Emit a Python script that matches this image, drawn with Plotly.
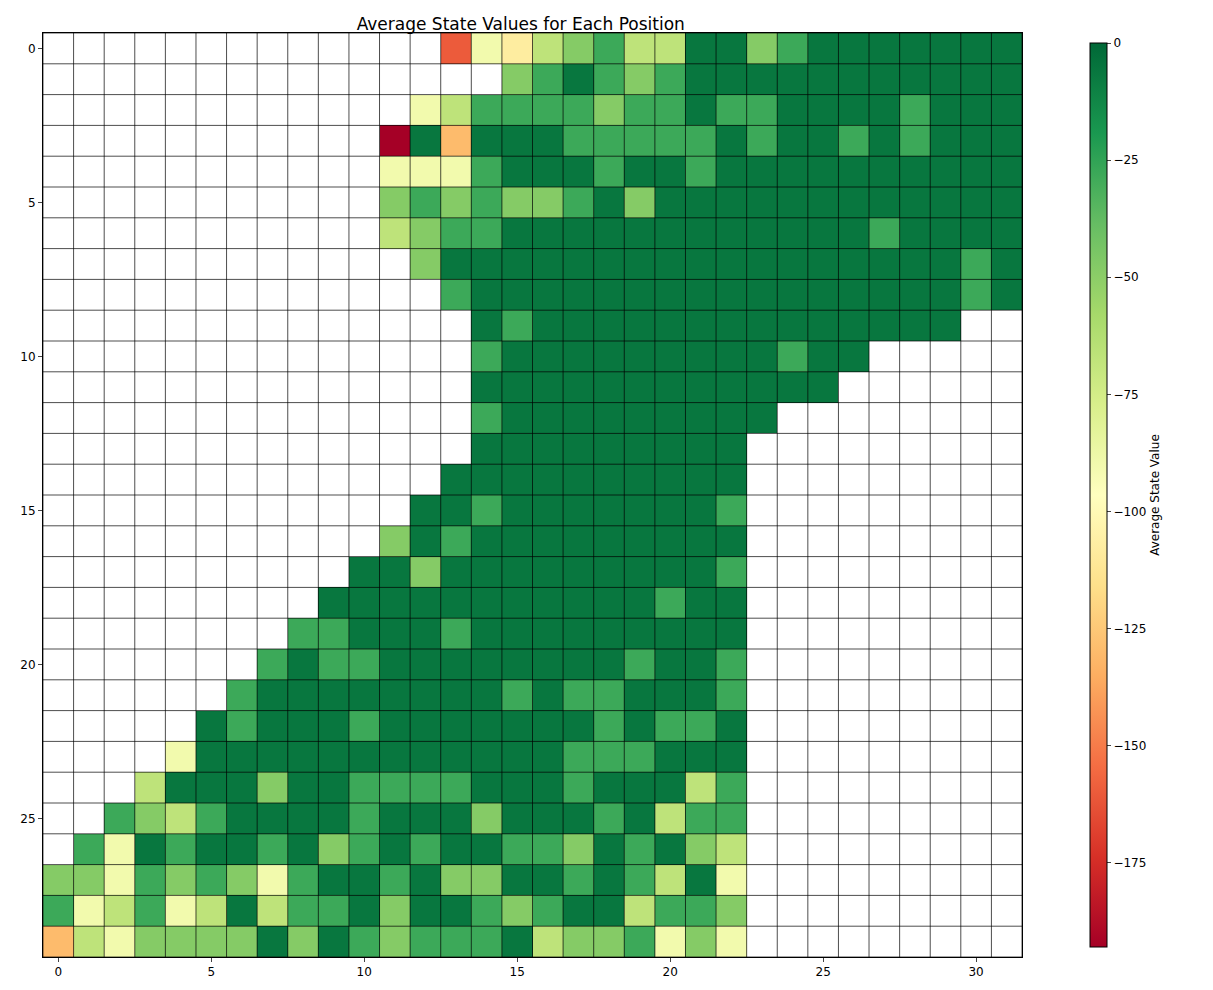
import plotly.graph_objects as go
import numpy as np

# cell codes, one string per row (row 0 at top)
# . = empty, D dark green, G mid green, L light green, Y yellow-green,
# P pale yellow, T light tan, O orange, R red-orange, X deep red
rows = [
    ".............RPTYLGYYDDLGDDDDDDD",
    "...............LGDGLGDDDDDDDDDDD",
    "............PYGGGGLGGDGGDDDDGDDD",
    "...........XDODDDGGGGGDGDDGDGDDD",
    "...........PPPGDDDGDDGDDDDDDDDDD",
    "...........LGLGLLGDLDDDDDDDDDDDD",
    "...........YLGGDDDDDDDDDDDDGDDDD",
    "............LDDDDDDDDDDDDDDDDDGD",
    ".............GDDDDDDDDDDDDDDDDGD",
    "..............DGDDDDDDDDDDDDDD..",
    "..............GDDDDDDDDDGDD.....",
    "..............DDDDDDDDDDDD......",
    "..............GDDDDDDDDD........",
    "..............DDDDDDDDD.........",
    ".............DDDDDDDDDD.........",
    "............DDGDDDDDDDG.........",
    "...........LDGDDDDDDDDD.........",
    "..........DDLDDDDDDDDDG.........",
    ".........DDDDDDDDDDDGDD.........",
    "........GGDDDGDDDDDDDDD.........",
    ".......GDGGDDDDDDDDGDDG.........",
    "......GDDDDDDDDGDGGDDDG.........",
    ".....DGDDDGDDDDDDDGDGGD.........",
    "....PDDDDDDDDDDDDGGGDDD.........",
    "...YDDDLDDGGGGDDDGDDDYG.........",
    "..GLYGDDDDGDDDLDDDGDYGG.........",
    ".GPDGDDGDLGDGDDGGLDGDLY.........",
    "LLPGLGLPGDDGDLLDDGDGYDP.........",
    "GPYGPYDYGGDLDDGLGDDYGGL.........",
    "OYPLLLLDLDGLGGGDYLLGPLP.........",
]
code_values = {"D": -6, "G": -28, "L": -48, "Y": -67, "P": -90,
               "T": -108, "O": -130, "R": -160, "X": -193}

z = [[code_values.get(ch, np.nan) for ch in r] for r in rows]
n_rows = len(rows)
n_cols = len(rows[0])

fig = go.Figure()
fig.add_trace(go.Heatmap(
    z=z,
    x=list(range(n_cols)),
    y=list(range(n_rows)),
    colorscale="RdYlGn",
    zmin=-193, zmax=0,
    colorbar=dict(
        title=dict(text="Average State Value", side="right",
                   font=dict(size=12)),
        x=1.059, xanchor="left", thickness=17, len=1.0, y=0.5,
        yanchor="middle", tickvals=[0, -25, -50, -75, -100, -125, -150, -175],
        ticks="outside", ticklen=4, outlinewidth=1, outlinecolor="black",
        tickfont=dict(size=12),
    ),
))

# black grid lines around every cell
shapes = []
for i in range(n_cols + 1):
    shapes.append(dict(type="line", x0=i - 0.5, x1=i - 0.5, y0=-0.5,
                       y1=n_rows - 0.5, line=dict(color="black", width=0.7)))
for j in range(n_rows + 1):
    shapes.append(dict(type="line", y0=j - 0.5, y1=j - 0.5, x0=-0.5,
                       x1=n_cols - 0.5, line=dict(color="black", width=0.7)))

fig.update_layout(
    shapes=shapes,
    width=1213, height=990,
    margin=dict(l=29, r=199, t=25, b=41),
    plot_bgcolor="white", paper_bgcolor="white",
    font=dict(family="DejaVu Sans", size=12, color="black"),
    title=dict(text="Average State Values for Each Position", x=0.4227,
               xanchor="center", y=0.99, yanchor="top", font=dict(size=17)),
    xaxis=dict(range=[-0.5, n_cols - 0.5], tickvals=[0, 5, 10, 15, 20, 25, 30],
               ticks="outside", ticklen=4, showgrid=False, zeroline=False,
               showline=True, linecolor="black", mirror=True),
    yaxis=dict(range=[n_rows - 0.5, -0.5], tickvals=[0, 5, 10, 15, 20, 25],
               ticks="outside", ticklen=4, showgrid=False, zeroline=False,
               showline=True, linecolor="black", mirror=True),
)

fig.write_html("out.html")
